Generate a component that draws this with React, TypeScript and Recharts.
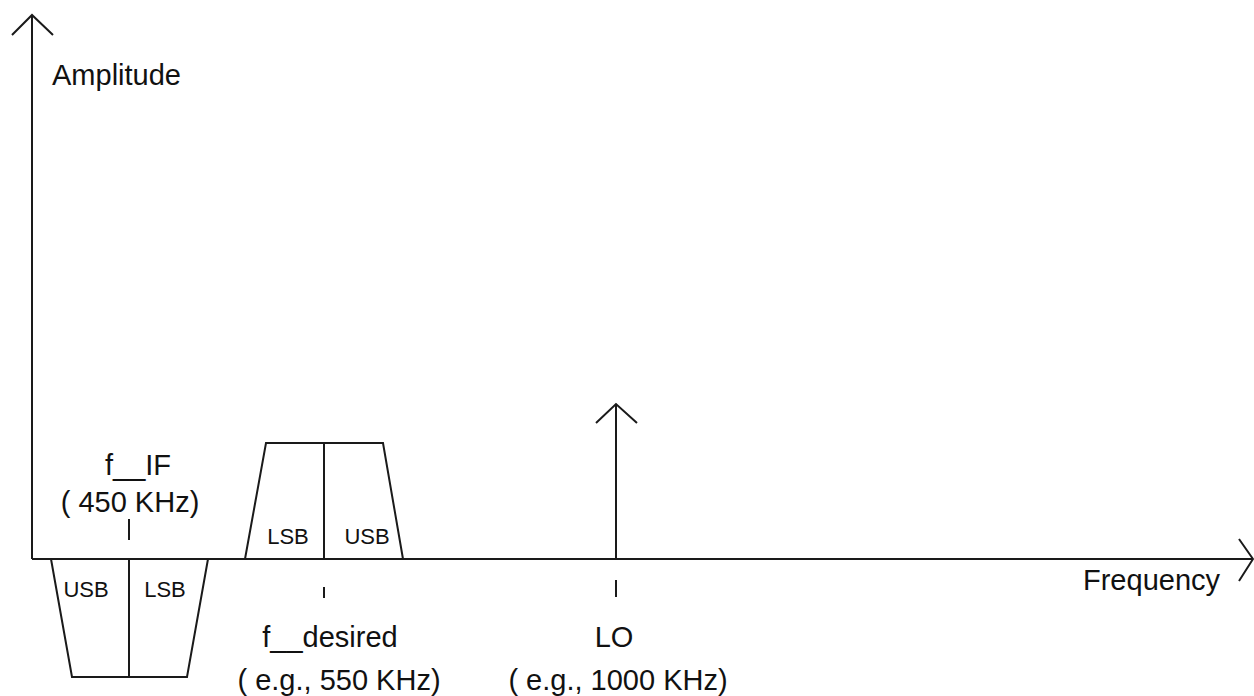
import { ComposedChart, Line, Scatter, XAxis, YAxis } from "recharts";

// diagram units: x = position along the frequency axis, y = amplitude (0 = axis)
const yAxisLine = [{ x: 0, y: 0 }, { x: 0, y: 544 }];
const yAxisHead = [{ x: -20, y: 524 }, { x: 0, y: 544 }, { x: 21, y: 524 }];
const xAxisLine = [{ x: 0, y: 0 }, { x: 1221, y: 0 }];
const xAxisHead = [{ x: 1207, y: 20 }, { x: 1221, y: 0 }, { x: 1207, y: -22 }];

// image band at f_IF (mirrored, below the axis)
const ifBand = [{ x: 19, y: 0 }, { x: 40, y: -118 }, { x: 155, y: -118 }, { x: 176, y: 0 }];
const ifCenter = [{ x: 97, y: 0 }, { x: 97, y: -118 }];
const ifTick = [{ x: 97, y: 19 }, { x: 97, y: 40 }];

// desired signal band
const desiredBand = [{ x: 213, y: 0 }, { x: 234, y: 116 }, { x: 351, y: 116 }, { x: 371, y: 0 }];
const desiredCenter = [{ x: 292, y: 0 }, { x: 292, y: 116 }];
const desiredTick = [{ x: 292, y: -28 }, { x: 292, y: -39 }];

// local oscillator
const loLine = [{ x: 584, y: 0 }, { x: 584, y: 155 }];
const loHead = [{ x: 564, y: 136 }, { x: 584, y: 155 }, { x: 605, y: 136 }];
const loTick = [{ x: 584, y: -21 }, { x: 584, y: -38 }];

const strokes = [
  yAxisLine, yAxisHead, xAxisLine, xAxisHead,
  ifBand, ifCenter, ifTick,
  desiredBand, desiredCenter, desiredTick,
  loLine, loHead, loTick,
];

const labels = [
  { x: 20, y: 474, text: "Amplitude", size: 29, anchor: "start" },
  { x: 1051, y: -31, text: "Frequency", size: 29, anchor: "start" },
  { x: 106, y: 84, text: "f__IF", size: 29, anchor: "middle" },
  { x: 98, y: 47, text: "( 450 KHz)", size: 29, anchor: "middle" },
  { x: 54, y: -38, text: "USB", size: 22, anchor: "middle" },
  { x: 133, y: -38, text: "LSB", size: 22, anchor: "middle" },
  { x: 256, y: 15, text: "LSB", size: 22, anchor: "middle" },
  { x: 335, y: 15, text: "USB", size: 22, anchor: "middle" },
  { x: 298, y: -88, text: "f__desired", size: 29, anchor: "middle" },
  { x: 307, y: -131, text: "( e.g., 550 KHz)", size: 29, anchor: "middle" },
  { x: 582, y: -88, text: "LO", size: 29, anchor: "middle" },
  { x: 586, y: -131, text: "( e.g., 1000 KHz)", size: 29, anchor: "middle" },
];

const renderText = (props: any) => {
  const { cx, cy, payload } = props;
  return (
    <text
      x={cx}
      y={cy}
      textAnchor={payload.anchor}
      fontFamily="'Liberation Sans', Arial, sans-serif"
      fontSize={payload.size}
      fill="#111"
    >
      {payload.text}
    </text>
  );
};

const App = () => (
  <div style={{ position: "absolute", left: 0, top: 0, background: "#fff" }}>
    <ComposedChart width={1254} height={696} margin={{ top: 0, right: 0, bottom: 0, left: 0 }}>
      <XAxis type="number" dataKey="x" domain={[-32, 1222]} allowDataOverflow hide />
      <YAxis type="number" dataKey="y" domain={[-137, 559]} allowDataOverflow hide />
      {strokes.map((pts, i) => (
        <Line
          key={`s-${i}`}
          data={pts}
          dataKey="y"
          type="linear"
          stroke="#1a1a1a"
          strokeWidth={2}
          dot={false}
          activeDot={false}
          isAnimationActive={false}
        />
      ))}
      <Scatter data={labels} dataKey="y" shape={renderText} isAnimationActive={false} />
    </ComposedChart>
  </div>
);

export default App;
